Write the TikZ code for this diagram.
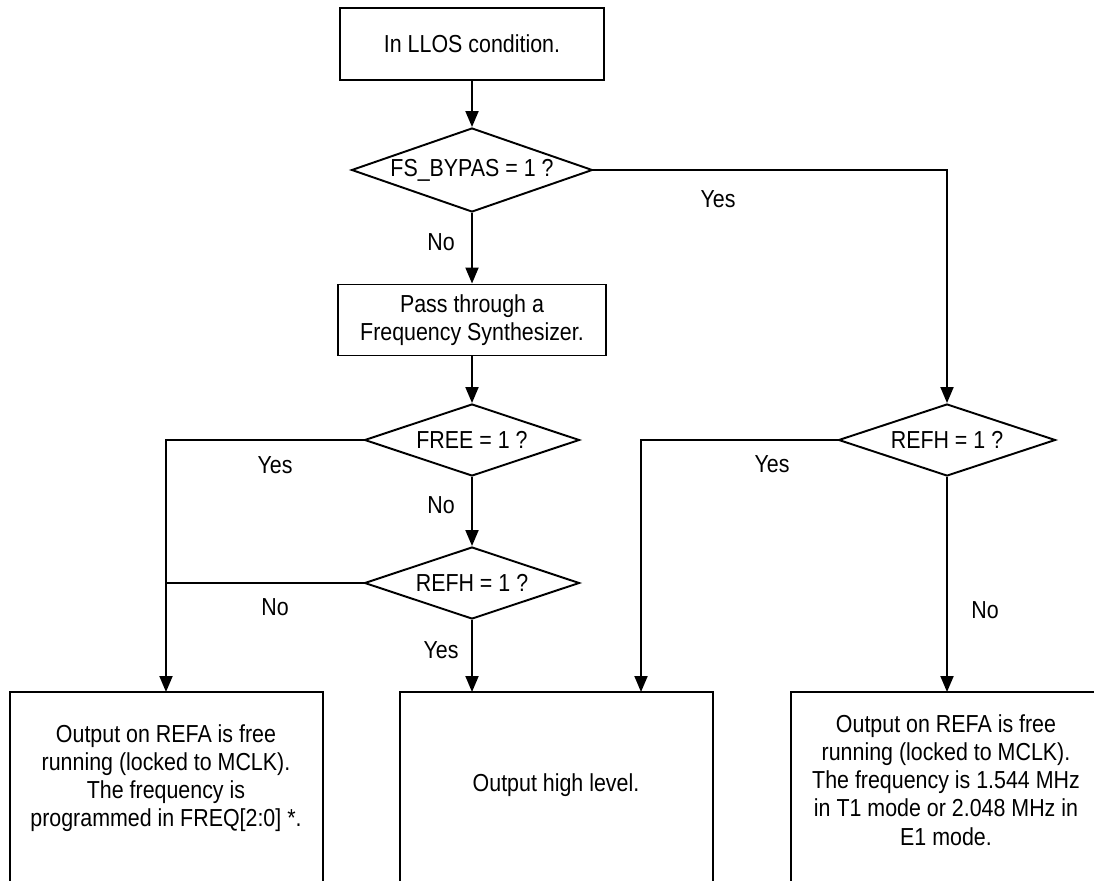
\documentclass[tikz,border=0pt]{standalone}
\usepackage{fontspec}
\setmainfont[FakeStretch=0.87]{Liberation Sans}
\usetikzlibrary{shapes.geometric, arrows.meta}

\tikzset{
  box/.style={draw, line width=1.1pt, align=center, inner sep=2pt},
  decision/.style={draw, diamond, line width=1.1pt, inner sep=0pt, aspect=3},
  arr/.style={line width=1.1pt, -{Triangle[length=0.32cm, width=0.26cm]}},
  wire/.style={line width=1.1pt},
}

\begin{document}
\begin{tikzpicture}[x=0.02cm, y=-0.02cm, every node/.style={font=\fontsize{14}{16}\selectfont}]
  \useasboundingbox (0,0) rectangle (1094,881);
  % steps and decisions
  \node[box, minimum width=5.28cm, minimum height=1.44cm] (llos) at (472,44) {In LLOS condition.};
  \node[decision, minimum width=4.82cm, minimum height=1.68cm] (bypas) at (472,170) {FS\_BYPAS = 1 ?};
  \node[box, minimum width=5.36cm, minimum height=1.42cm] (synth) at (472,320) {Pass through a\\Frequency Synthesizer.};
  \node[decision, minimum width=4.3cm, minimum height=1.44cm] (free) at (472,440) {FREE = 1 ?};
  \node[decision, minimum width=4.3cm, minimum height=1.44cm] (refhl) at (472,583) {REFH = 1 ?};
  \node[decision, minimum width=4.34cm, minimum height=1.44cm] (refhr) at (947,440) {REFH = 1 ?};
  % result boxes (cut off at the bottom)
  \coordinate (freetop) at (166,692);
  \coordinate (highleft) at (472,692);
  \coordinate (highright) at (641,692);
  \coordinate (mclktop) at (947,692);
  \draw[wire] (10,881) |- (323,692) -- (323,881);
  \draw[wire] (400,881) |- (713,692) -- (713,881);
  \draw[wire] (791,881) |- (1094,692);
  \node[align=center] (freetxt) at (166,778) {Output on REFA is free\\running (locked to MCLK).\\The frequency is\\programmed in FREQ[2:0] *.};
  \node (hightxt) at (556,785) {Output high level.};
  \node[align=center] (mclktxt) at (946,780) {Output on REFA is free\\running (locked to MCLK).\\The frequency is 1.544 MHz\\in T1 mode or 2.048 MHz in\\E1 mode.};
  % connectors
  \draw[arr] (llos) -- (bypas);
  \draw[arr] (bypas) -- (synth);
  \draw[arr] (bypas.east) -| (refhr.north);
  \draw[arr] (synth) -- (free);
  \draw[arr] (free.west) -| (freetop);
  \draw[arr] (free) -- (refhl);
  \draw[wire] (refhl.west) -- (refhl.west -| freetop);
  \draw[arr] (refhl) -- (highleft);
  \draw[arr] (refhr.west) -| (highright);
  \draw[arr] (refhr) -- (mclktop);
  % labels
  \node (yesbypas) at (718,199) {Yes};
  \node (nobypas) at (441,242) {No};
  \node (yesfree) at (275,465) {Yes};
  \node (nofree) at (441,505) {No};
  \node (norefhl) at (275,607) {No};
  \node (yesrefhl) at (441,650) {Yes};
  \node (yesrefhr) at (772,464) {Yes};
  \node (norefhr) at (985,610) {No};
\end{tikzpicture}
\end{document}
